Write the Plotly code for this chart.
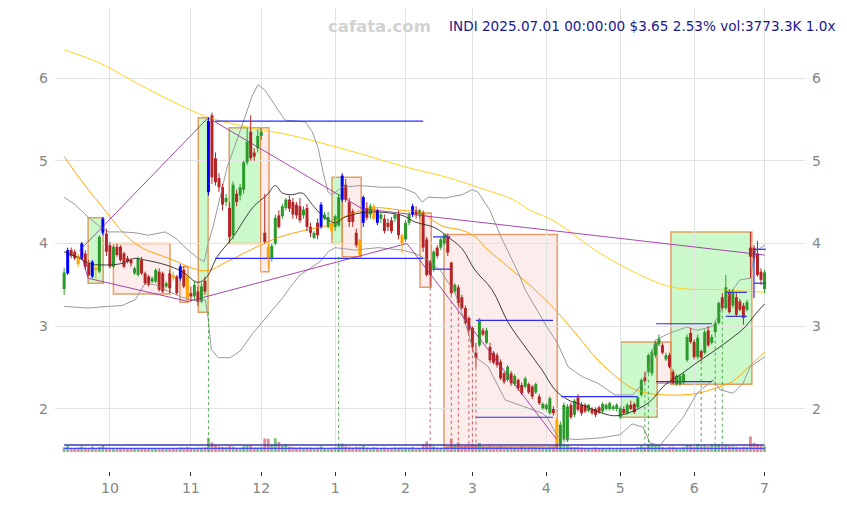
import plotly.graph_objects as go

# ---------------- data (trading-day index 0..199, Sep 12 2024 .. Jul 1 2025) ----------------
opens = [
    3.45,3.64,3.92,3.90,3.85,3.82,3.88,3.75,3.60,3.70, 3.66,4.13,4.12,3.98,3.72,3.96,3.96,3.88,3.82,3.80,
    3.64,3.62,3.80,3.64,3.60,3.54,3.54,3.66,3.64,3.48, 3.64,3.62,3.60,3.58,3.68,3.62,
    3.40,3.36,3.42,3.30,3.55,4.62,5.55,5.03,4.79,4.68, 4.50,4.43,4.10,4.60,4.58,4.65,4.98,5.35,5.10,5.15,
    5.30,4.13,3.96,3.82,4.00,4.34,4.33,4.43,4.53,4.50, 4.47,4.45,4.34,4.43,4.20,4.07,4.25,4.20,4.30,4.20, 4.25,
    4.20,4.22,4.53,4.71,4.50,4.39,4.13,4.04,4.25,4.43, 4.35,4.30,4.40,4.30,4.30,4.25,4.28,4.30,4.35,4.00,
    4.05,4.25,4.35,4.40,4.35,4.37,4.05,3.78,3.68,3.95, 3.95,4.00,4.08,3.77,3.42,3.47,3.35,3.22,3.10,
    2.98,2.68,2.77,2.95,2.80,2.75,2.68,2.65,2.57,2.43, 2.35,2.43,2.30,2.35,2.29,2.27,2.30,2.27,2.20,2.15, 2.01,
    2.00,1.95,2.00,1.87,1.57,1.63,1.62,2.05,1.93,2.14, 2.05,2.05,1.98,2.00,2.00,2.02,1.97,2.00,2.00,2.00, 2.00,
    1.90,2.00,1.95,2.05,2.06,2.02,2.17,2.38,2.45,2.43, 2.65,2.78,2.77,2.60,2.65,2.45,2.30,2.30,2.32,2.59, 2.92,
    2.81,2.63,2.70,2.68,2.95,2.80,2.93,3.04,3.35,3.22, 3.41,3.25,3.35,3.30,3.25,3.20,3.95,3.95,3.88,3.66, 3.45,
]
highs = [
    3.70,3.95,3.95,3.93,3.88,4.02,3.92,3.80,3.80,3.76, 4.10,4.32,4.18,4.02,3.98,4.00,3.98,3.90,3.85,3.82,
    3.72,3.84,3.84,3.66,3.62,3.60,3.70,3.70,3.66,3.54, 3.68,3.66,3.62,3.75,3.72,3.64,
    3.48,3.55,3.48,3.52,3.60,5.52,5.58,5.10,4.85,4.72, 4.60,4.50,4.75,4.65,4.72,5.00,5.40,5.55,5.15,5.38,
    5.40,4.60,4.00,4.00,4.35,4.40,4.48,4.55,4.58,4.55, 4.50,4.55,4.45,4.48,4.25,4.15,4.30,4.50,4.38,4.38, 4.30,
    4.35,4.60,4.85,4.78,4.55,4.42,4.18,4.06,4.58,4.50, 4.48,4.48,4.42,4.38,4.35,4.30,4.32,4.38,4.40,4.12,
    4.28,4.38,4.48,4.45,4.42,4.40,4.08,3.80,3.92,3.98, 4.08,4.12,4.12,3.78,3.52,3.50,3.38,3.25,3.12,
    3.00,2.80,3.10,2.98,2.98,2.80,2.70,2.68,2.60,2.45, 2.53,2.46,2.42,2.37,2.32,2.39,2.32,2.29,2.32,2.18, 2.08,
    2.07,2.15,2.03,1.90,1.85,2.08,2.06,2.08,2.12,2.18, 2.08,2.07,2.06,2.02,2.02,2.04,2.08,2.07,2.09,2.05, 2.07,
    2.03,2.03,2.07,2.10,2.08,2.16,2.37,2.45,2.67,2.72, 2.82,2.90,2.80,2.68,2.68,2.48,2.42,2.42,2.45,2.90, 2.98,
    2.84,2.90,2.72,2.96,3.00,2.90,3.06,3.30,3.40,3.62, 3.45,3.45,3.40,3.33,3.28,3.32,4.14,3.98,4.03,3.70, 3.68,
]
lows = [
    3.38,3.62,3.82,3.80,3.72,3.80,3.68,3.60,3.58,3.55, 3.64,4.10,3.85,3.70,3.70,3.84,3.78,3.70,3.76,3.72,
    3.62,3.60,3.62,3.50,3.48,3.52,3.52,3.42,3.40,3.46, 3.40,3.55,3.38,3.55,3.46,3.30,
    3.30,3.32,3.25,3.28,3.38,4.58,4.72,4.70,4.62,4.40, 4.45,4.00,4.05,4.45,4.52,4.60,4.95,5.00,5.00,5.10,
    5.25,4.00,3.70,3.78,3.98,4.18,4.30,4.40,4.38,4.30, 4.30,4.25,4.30,4.15,4.08,4.05,4.05,4.18,4.28,4.18, 4.05,
    4.15,4.20,4.50,4.50,4.20,4.20,3.95,3.84,4.20,4.28, 4.30,4.28,4.22,4.25,4.12,4.15,4.12,4.26,4.05,3.88,
    4.02,4.22,4.32,4.30,4.30,3.90,3.60,3.48,3.66,3.82, 3.92,3.98,3.85,3.38,3.40,3.25,3.20,3.02,2.92,
    2.72,2.50,2.75,2.88,2.78,2.56,2.54,2.50,2.35,2.30, 2.33,2.28,2.28,2.22,2.17,2.25,2.18,2.12,2.18,2.05, 1.99,
    1.98,1.93,1.92,1.52,1.50,1.60,1.60,1.88,1.90,1.97, 1.92,1.95,1.96,1.93,1.90,1.94,1.95,1.98,1.98,1.98, 1.97,
    1.88,1.94,1.93,1.99,1.94,2.00,2.15,2.32,2.43,2.40, 2.62,2.76,2.66,2.58,2.49,2.30,2.28,2.28,2.30,2.57, 2.79,
    2.60,2.60,2.58,2.66,2.75,2.78,2.90,3.02,3.20,3.20, 3.15,3.22,3.12,3.18,3.02,3.18,3.58,3.80,3.60,3.50, 3.40,
]
closes = [
    3.65,3.92,3.85,3.82,3.75,4.00,3.72,3.62,3.78,3.68, 4.08,4.30,3.90,3.72,3.96,3.86,3.80,3.72,3.78,3.76,
    3.70,3.82,3.64,3.52,3.50,3.58,3.68,3.44,3.42,3.52, 3.46,3.58,3.40,3.72,3.48,3.32,
    3.36,3.50,3.30,3.48,3.42,5.48,4.80,4.74,4.68,4.47, 4.55,4.08,4.71,4.50,4.68,4.98,5.23,5.03,5.05,5.30,
    5.35,4.02,3.82,3.97,4.31,4.20,4.45,4.53,4.42,4.35, 4.34,4.28,4.41,4.20,4.13,4.13,4.10,4.47,4.35,4.32, 4.15,
    4.33,4.56,4.82,4.53,4.26,4.26,3.98,3.86,4.56,4.31, 4.45,4.45,4.25,4.35,4.15,4.20,4.15,4.35,4.10,4.10,
    4.25,4.35,4.45,4.35,4.40,3.95,3.62,3.62,3.90,3.85, 4.05,4.10,3.89,3.40,3.50,3.28,3.22,3.04,2.95,
    2.75,2.62,3.08,2.90,2.95,2.59,2.56,2.53,2.37,2.33, 2.51,2.31,2.40,2.25,2.19,2.37,2.20,2.15,2.30,2.07, 2.06,
    2.05,2.13,1.95,1.54,1.81,2.05,2.03,1.90,2.10,1.99, 1.95,1.97,2.05,1.95,1.93,1.96,2.06,2.05,2.07,2.03, 2.05,
    2.01,1.95,2.05,2.00,1.96,2.14,2.35,2.34,2.65,2.69, 2.80,2.85,2.68,2.65,2.51,2.31,2.40,2.40,2.42,2.87, 2.81,
    2.63,2.86,2.62,2.93,2.77,2.87,3.04,3.28,3.22,3.47, 3.17,3.41,3.14,3.20,3.10,3.29,3.84,3.83,3.62,3.56, 3.65,
]
volume_k = [
    3200,4200,2800,2600,3000,3800,2900,2500,3600,2700, 3300,4500,3000,2800,2600,2400,2900,2200,2500,2300,
    2600,2800,2200,2400,2100,2300,2500,2700,2400,2200, 2600,2300,2500,3100,2900,3400,
    2800,2600,3000,2900,3200,9500,6500,4500,3800,3500, 3300,4000,3600,3000,2900,3800,4200,4600,3200,3100,
    3500,9200,9000,4800,9300,6800,4200,5200,3600,3300, 3000,3400,2900,3200,3100,2800,3000,3900,2700,2600, 3000,
    3200,4000,5800,3800,3500,3100,3600,3300,4200,3000, 2800,3300,2900,2700,3000,2600,2800,3100,2900,3200,
    3000,2900,3400,2800,2700,5200,7200,4800,3800,3100, 2900,3000,3600,9000,4500,6500,4000,4200,5000,
    5500,5000,6200,3600,3300,3800,3500,3300,3900,3400, 3200,3500,3000,3300,3600,3100,3000,3400,3200,3000, 2900,
    3000,3400,3200,5200,6000,5600,4800,3600,3300,3500, 3000,2800,2700,2900,3100,2600,2800,2700,2900,2600, 2800,
    2700,2600,2900,2800,2700,3300,4200,3500,5600,5200, 4400,4100,3300,3000,3500,3600,3200,3100,3300,4800, 4600,
    3600,5400,3500,4300,3800,5300,4600,5500,4000,5000, 3900,3800,3600,3400,3700,3500,10500,6200,5400,4200, 3773,
]
blue_idx = [1, 5, 8, 11, 33, 41, 73, 79, 85, 89, 99]
orange_idx = [4, 9, 31, 35, 58, 76, 84, 88, 96, 140]

month_pos = [13, 36, 56, 77, 97, 116, 137, 158, 179, 199]
month_lbl = ["10", "11", "12", "1", "2", "3", "4", "5", "6", "7"]

ma20_idx = [0,4.5,7,12,16.5,20,23,29,33.5,38, 40.6,43.5,48,53.7,57.7,60,62,64.8,67.6,70.5,
            73.3,77,79.8,86.4,96,99.7,105.4,109,113,116.7, 121.6,126.1,131,135.8,139.5,143.2,147.2,152.8,157.4,165.9,
            170.7,175.6,180.1,185,189.8,193.5,196.3,199]
ma20_val = [3.90,3.82,3.76,3.74,3.76,3.82,3.80,3.74,3.66,3.53, 3.60,3.84,4.08,4.44,4.59,4.70,4.61,4.59,4.61,4.47,
            4.34,4.25,4.32,4.38,4.34,4.26,4.19,4.08,3.94,3.68, 3.44,3.05,2.75,2.47,2.23,2.11,2.05,1.95,1.92,2.07,
            2.29,2.43,2.57,2.71,2.86,2.99,3.14,3.27]

bb_up_idx = [0,3.1,6.8,9.7,12.5,16.5,20.2,23.9,28.7,31.5, 35.2,38.1,39.8,40.9,42.3,44.3,46.3,49.1,52.0,53.4,
             55.1,57.1,59.9,62.8,68.5,70.5,72.2,73.6,75.0,76.1, 79.0,84.1,89.8,95.5,99.7,101.7,103.4,108.2,113.1,115.9,
             117.6,121.0,123.9,127.3,129.0,131.0,135.8,137.2,140.1,143.2, 147.2,151.7,156.5,161.6,164.2,166.5,167.9,172.2,177.0,179.8,
             184.4,188.4,192.0,194.9,196.3,199.1]
bb_up_val = [4.56,4.47,4.32,4.22,4.14,4.14,4.13,4.10,4.14,4.07, 3.92,3.82,3.78,4.00,4.20,4.56,4.92,5.25,5.61,5.78,
             5.92,5.85,5.67,5.49,5.47,5.35,5.15,4.86,4.62,4.59, 4.68,4.70,4.68,4.68,4.61,4.50,4.56,4.55,4.59,4.65,
             4.62,4.40,4.10,3.80,3.65,3.44,3.08,2.99,2.80,2.51, 2.39,2.31,2.17,2.17,2.30,2.55,2.83,2.92,2.99,2.95,
             3.00,3.35,3.56,3.58,3.90,3.98]

bb_lo_idx = [0,6.8,12.5,16.5,20.2,23.0,25.9,28.7,33.5,38.1, 40.1,40.9,41.8,43.8,47.2,50.0,53.7,56.3,58.5,62.2,
             64.2,67.0,69.9,72.7,75.0,77.0,82.7,89.2,96.0,99.7, 103.4,106.8,111.1,113.9,116.8,120.5,125.3,131.0,135.8,137.2,
             140.3,145.2,152.3,158.0,161.4,164.5,166.5,169.3,175.9,179.8, 184.4,186.4,190.1,192.9,194.9,199.1]
bb_lo_val = [3.24,3.22,3.24,3.25,3.32,3.52,3.50,3.44,3.35,3.30, 3.32,3.10,2.72,2.62,2.62,2.70,2.92,3.05,3.16,3.35,
             3.47,3.62,3.70,3.78,3.90,3.95,3.92,3.95,3.92,3.88, 3.80,3.68,3.40,3.05,2.63,2.51,2.11,2.02,1.95,1.90,
             1.66,1.63,1.65,1.69,1.82,1.78,1.59,1.56,1.90,2.19, 2.35,2.23,2.19,2.31,2.51,2.63]

ma50_idx = [0,5.4,12.2,16.8,21.6,31.0,36.6,40.6,46.3,54.8, 61.4,68.5,75.0,79.0,87.5,96.0,101.7,105.4,108.2,113.1,
            116.8,120.5,126.1,133.0,139.5,145.2,151.7,158.0,161.4,165.9, 170.7,175.6,180.1,184.9,189.8,194.3,199.1]
ma50_val = [5.05,4.73,4.37,4.13,3.96,3.80,3.70,3.67,3.78,3.96, 4.08,4.16,4.22,4.31,4.43,4.40,4.37,4.26,4.20,4.16,
            4.08,3.92,3.72,3.47,3.20,2.92,2.59,2.35,2.25,2.19, 2.17,2.17,2.19,2.25,2.33,2.50,2.69]

ma200_idx = [0,10.2,18.8,30.1,40.6,52.8,64.2,80.4,97.4,108.8,118.2,127.6,132.4,138.9,152.3,163.6,173.0,187.2,199.1]
ma200_val = [6.34,6.18,5.98,5.73,5.53,5.40,5.31,5.13,4.92,4.80,4.67,4.53,4.40,4.28,3.88,3.62,3.47,3.44,3.41]

box_x0 = [6.8,14.0,32.9,38.1,46.9,55.9,76.1,79.0,101.1,107.9,158.2,168.5,172.4]
box_x1 = [11.1,30.1,35.2,40.9,55.9,58.2,79.0,84.4,104.3,140.1,168.5,172.4,195.4]
box_lo = [3.52,3.39,3.29,3.17,4.00,3.66,4.00,3.84,3.47,1.54,1.90,2.31,2.30]
box_hi = [4.31,4.00,3.72,5.52,5.40,5.40,4.80,4.80,4.37,4.11,2.81,2.81,4.14]
box_up = [True,False,False,True,True,False,True,False,False,False,True,False,True]

lvl_x0 = [42.9,42.9,104.8,104.8,117.0,117.0,141.2,168.2,168.2,188.0,188.0,196.0,196.0]
lvl_x1 = [102.0,102.0,109.7,109.7,138.9,138.9,162.8,184.1,184.1,194.0,194.0,199.4,199.4]
lvl_y = [5.48,3.82,4.08,3.69,3.07,1.90,2.15,3.03,2.33,3.41,3.12,3.93,3.52]
vlvl_x = [196.0]
vlvl_lo = [3.34]
vlvl_hi = [3.93]

zz_x0 = [4.5,4.5,6.8,35.2,40.9,84.7,97.4]
zz_y0 = [3.92,3.92,3.58,3.30,5.52,4.42,4.00]
zz_x1 = [40.9,6.8,35.2,97.4,84.7,199.1,140.0]
zz_y1 = [5.52,3.58,3.30,4.00,4.42,3.86,1.63]

sig_up_idx = [41, 78, 165, 166, 181, 185, 187]
sig_up_top = [3.17, 3.84, 2.32, 2.43, 2.58, 2.90, 3.20]
sig_dn_idx = [104, 110, 112, 115, 116, 117]
sig_dn_top = [3.47, 3.38, 3.25, 2.92, 2.72, 2.50]

volma_x = [0, 199]
volma_hi = [4750, 4750]
volma_lo = [2500, 2500]

# ---------------- style ----------------
GREEN = "#2a9a2a"
RED = "#b52525"
BLUE = "#0000ff"
ORANGE = "#ffa500"
Y_RANGE = [1.48, 6.846]
X_RANGE = [-2.6, 210.5]
FONT = "DejaVu Sans"

n = len(closes)
idx = list(range(n))


def color_of(i):
    if i in blue_idx:
        return BLUE
    if i in orange_idx:
        return ORANGE
    return GREEN if closes[i] >= opens[i] else RED


cols = [color_of(i) for i in idx]

fig = go.Figure()

# boxes
for x0, x1, lo, hi, up in zip(box_x0, box_x1, box_lo, box_hi, box_up):
    fig.add_shape(type="rect", xref="x", yref="y", x0=x0, x1=x1, y0=lo, y1=hi, layer="below",
                  fillcolor="rgba(120,240,120,0.38)" if up else "rgba(245,180,175,0.25)",
                  line=dict(color="rgba(225,135,65,0.8)", width=1.5))

# volume
vcols = ["rgba(70,165,70,0.7)" if closes[i] >= opens[i] else "rgba(215,90,90,0.7)" for i in idx]
fig.add_trace(go.Bar(x=idx, y=volume_k, marker=dict(color=vcols, line=dict(width=0)), width=0.8,
                     yaxis="y2", hoverinfo="skip"))
fig.add_trace(go.Scatter(x=volma_x, y=volma_hi, yaxis="y2", mode="lines",
                         line=dict(color="#3a3ab0", width=1.5), hoverinfo="skip"))
fig.add_trace(go.Scatter(x=volma_x, y=volma_lo, yaxis="y2", mode="lines",
                         line=dict(color="#4a4aff", width=1.2), hoverinfo="skip"))

# moving averages and bands
fig.add_trace(go.Scatter(x=ma200_idx, y=ma200_val, mode="lines", line=dict(color="#ffd21f", width=1, shape="spline"),
                         hoverinfo="skip"))
fig.add_trace(go.Scatter(x=ma50_idx, y=ma50_val, mode="lines", line=dict(color="#ffa500", width=1, shape="spline"),
                         hoverinfo="skip"))
fig.add_trace(go.Scatter(x=bb_up_idx, y=bb_up_val, mode="lines", line=dict(color="#9a9a9a", width=1),
                         hoverinfo="skip"))
fig.add_trace(go.Scatter(x=bb_lo_idx, y=bb_lo_val, mode="lines", line=dict(color="#9a9a9a", width=1),
                         hoverinfo="skip"))
fig.add_trace(go.Scatter(x=ma20_idx, y=ma20_val, mode="lines", line=dict(color="#111111", width=0.8, shape="spline"),
                         hoverinfo="skip"))

# zigzag
zx, zy = [], []
for a, b, c, d in zip(zz_x0, zz_y0, zz_x1, zz_y1):
    zx += [a, c, None]
    zy += [b, d, None]
fig.add_trace(go.Scatter(x=zx, y=zy, mode="lines", line=dict(color="rgba(150,40,160,0.85)", width=1),
                         hoverinfo="skip"))

# levels
lx, ly = [], []
for a, b, c in zip(lvl_x0, lvl_x1, lvl_y):
    lx += [a, b, None]
    ly += [c, c, None]
for a, lo, hi in zip(vlvl_x, vlvl_lo, vlvl_hi):
    lx += [a, a, None]
    ly += [lo, hi, None]
fig.add_trace(go.Scatter(x=lx, y=ly, mode="lines", line=dict(color="#2a2aff", width=1.2), hoverinfo="skip"))

# signal dotted lines
for ids, tops, c in ((sig_up_idx, sig_up_top, "rgba(40,150,40,0.8)"), (sig_dn_idx, sig_dn_top, "rgba(200,60,60,0.8)")):
    sx, sy = [], []
    for i, t in zip(ids, tops):
        sx += [i, i, None]
        sy += [t, Y_RANGE[0], None]
    fig.add_trace(go.Scatter(x=sx, y=sy, mode="lines", line=dict(color=c, width=1, dash="dot"), hoverinfo="skip"))

# wicks
for c in (GREEN, RED, BLUE, ORANGE):
    wx, wy = [], []
    for i in idx:
        if cols[i] == c:
            wx += [i, i, None]
            wy += [lows[i], highs[i], None]
    fig.add_trace(go.Scatter(x=wx, y=wy, mode="lines", line=dict(color=c, width=1), hoverinfo="skip"))

# bodies
fig.add_trace(go.Bar(x=idx, y=[max(abs(closes[i] - opens[i]), 0.01) for i in idx],
                     base=[min(closes[i], opens[i]) for i in idx],
                     marker=dict(color=cols, line=dict(width=0)), width=0.85, hoverinfo="skip"))

# invisible trace for right axis labels
fig.add_trace(go.Scatter(x=idx, y=closes, yaxis="y3", mode="lines", line=dict(width=0), opacity=0,
                         hoverinfo="skip"))

tickfont = dict(family=FONT, size=14, color="#858585")
fig.update_layout(
    width=847, height=505,
    margin=dict(l=47, r=50, t=0, b=42, autoexpand=False),
    paper_bgcolor="white", plot_bgcolor="white",
    showlegend=False, barmode="overlay",
    xaxis=dict(range=X_RANGE, tickvals=month_pos, ticktext=month_lbl, showgrid=True, gridcolor="#e2e2e2",
               zeroline=False, showline=False, anchor="free", position=0, ticks="outside", ticklen=4,
               tickcolor="#333333", tickfont=tickfont, automargin=False),
    yaxis=dict(domain=[0.041, 1], range=Y_RANGE, tickvals=[2, 3, 4, 5, 6], showgrid=True, gridcolor="#e2e2e2",
               zeroline=False, showline=False, tickfont=tickfont, ticklabelstandoff=6, automargin=False),
    yaxis2=dict(overlaying="y", range=[0, 300000], visible=False),
    yaxis3=dict(overlaying="y", side="right", range=Y_RANGE, tickvals=[2, 3, 4, 5, 6], showgrid=False,
                zeroline=False, showline=False, tickfont=tickfont, ticklabelstandoff=6, automargin=False),
    annotations=[
        dict(text="cafata.com", xref="paper", yref="paper", x=0.433, y=0.961, xanchor="center", yanchor="middle",
             showarrow=False, font=dict(family=FONT, size=16.5, color="#d2d2d2", weight="bold")),
        dict(text="INDI 2025.07.01 00:00:00 $3.65 2.53% vol:3773.3K 1.0x", xref="paper", yref="paper",
             x=1.0427, y=0.961, xanchor="right", yanchor="middle", showarrow=False,
             font=dict(family=FONT, size=13.6, color="#1a1a8c")),
    ],
)

fig.write_html("out.html")
